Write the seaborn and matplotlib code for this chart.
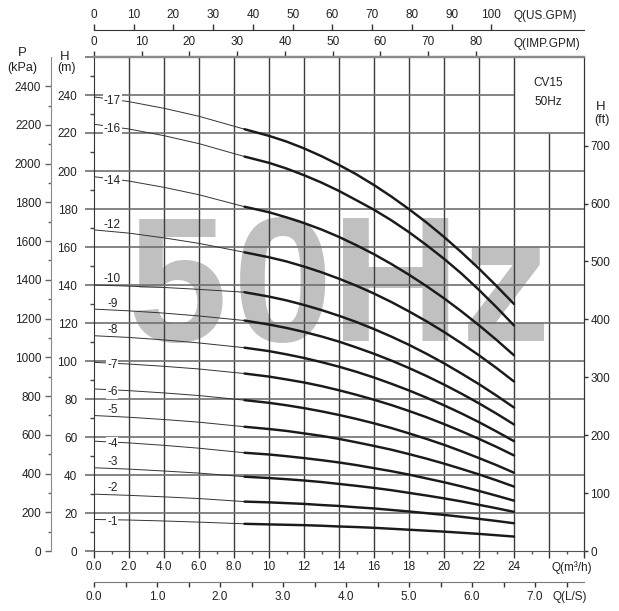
import numpy as np
import pandas as pd
import seaborn as sns
import matplotlib.pyplot as plt

Q_POINTS = [0, 2, 4, 6, 8.6, 10, 11, 12, 13, 14, 15, 16, 17, 18, 19, 20, 21, 22, 23, 24]
THICK_FROM = 8.6

H_1 = [16.6, 16.3, 15.8, 15.2, 14.3, 14.0, 13.8, 13.6, 13.3, 12.9, 12.6, 12.2, 11.7, 11.2, 10.7, 10.2, 9.6, 9.0, 8.3, 7.6]
H_2 = [29.9, 29.3, 28.5, 27.6, 26.0, 25.6, 25.2, 24.8, 24.2, 23.7, 23.0, 22.4, 21.6, 20.8, 19.9, 19.0, 18.0, 16.9, 15.8, 14.6]
H_3 = [43.8, 43.1, 42.1, 41.0, 39.1, 38.4, 37.8, 37.1, 36.3, 35.3, 34.3, 33.2, 32.0, 30.6, 29.2, 27.7, 26.1, 24.3, 22.5, 20.6]
H_4 = [57.8, 56.9, 55.6, 54.1, 51.7, 50.8, 49.9, 48.9, 47.8, 46.6, 45.2, 43.6, 42.0, 40.2, 38.2, 36.2, 34.0, 31.6, 29.1, 26.5]
H_5 = [71.3, 70.4, 69.2, 67.8, 65.4, 64.2, 63.2, 61.9, 60.6, 59.0, 57.2, 55.3, 53.3, 51.0, 48.6, 46.0, 43.2, 40.3, 37.2, 33.9]
H_6 = [85.3, 84.4, 83.2, 81.8, 79.4, 78.0, 76.7, 75.2, 73.5, 71.6, 69.5, 67.2, 64.7, 61.9, 59.0, 55.9, 52.5, 48.9, 45.2, 41.2]
H_7 = [99.3, 98.4, 97.2, 95.8, 93.4, 91.8, 90.3, 88.7, 86.8, 84.6, 82.2, 79.6, 76.8, 73.7, 70.4, 66.8, 63.0, 59.0, 54.8, 50.3]
H_8 = [113.3, 112.4, 111.1, 109.5, 107.0, 105.2, 103.5, 101.6, 99.4, 97.0, 94.3, 91.3, 88.0, 84.5, 80.7, 76.7, 72.4, 67.8, 62.9, 57.8]
H_9 = [127.3, 126.4, 125.2, 123.7, 121.3, 119.2, 117.4, 115.3, 112.9, 110.2, 107.1, 103.8, 100.2, 96.3, 92.1, 87.6, 82.8, 77.7, 72.3, 66.6]
H_10 = [140.0, 139.4, 138.7, 137.7, 136.2, 133.9, 131.9, 129.5, 126.8, 123.8, 120.5, 116.8, 112.8, 108.5, 103.8, 98.8, 93.4, 87.8, 81.8, 75.5]
H_12 = [169.0, 167.3, 164.8, 161.9, 157.2, 154.6, 152.4, 149.7, 146.7, 143.3, 139.6, 135.5, 131.0, 126.1, 120.9, 115.3, 109.3, 103.0, 96.3, 89.2]
H_14 = [197.0, 194.7, 191.4, 187.5, 181.2, 178.3, 175.6, 172.6, 169.2, 165.3, 160.9, 156.2, 151.0, 145.4, 139.4, 133.0, 126.1, 118.8, 111.1, 103.0]
H_16 = [224.6, 222.1, 218.6, 214.4, 207.6, 204.3, 201.3, 197.8, 193.9, 189.5, 184.6, 179.6, 174.0, 167.8, 161.0, 153.8, 146.0, 137.4, 128.3, 118.7]
H_17 = [239.0, 236.5, 233.0, 228.8, 222.0, 218.5, 215.5, 211.9, 207.8, 203.2, 198.2, 192.6, 186.5, 179.9, 172.9, 165.3, 157.2, 148.6, 139.5, 130.0]

STAGES = [1, 2, 3, 4, 5, 6, 7, 8, 9, 10, 12, 14, 16, 17]
HEADS = [H_1, H_2, H_3, H_4, H_5, H_6, H_7, H_8, H_9, H_10, H_12, H_14, H_16, H_17]
ON_LINE = [1, 4, 6, 7, 14, 16, 17]   # labels that sit on the curve

X_LABELS = ['0.0', '2.0', '4.0', '6.0', '8.0', '10', '12', '14', '16', '18', '20', '22', '24', '', '']
LS_LABELS = ['0.0', '', '1.0', '', '2.0', '', '3.0', '', '4.0', '', '5.0', '', '6.0', '', '7.0', '']

W, HP = 619, 611
FS = 8.5

sns.set_style('ticks')
plt.rcParams['font.family'] = ['Liberation Sans', 'DejaVu Sans']
plt.rcParams['font.size'] = FS
plt.rcParams['text.color'] = '#222222'
plt.rcParams['xtick.color'] = '#222222'
plt.rcParams['ytick.color'] = '#222222'

fig = plt.figure(figsize=(6.19, 6.11), dpi=100)
ax = fig.add_axes([94 / W, 1 - 551 / HP, 490 / W, 494 / HP])
ax.set_xlim(0, 28)
ax.set_ylim(0, 260)

# grid, leaving the CV15 box (x 24-28, H 220-260) empty
ax.vlines(range(2, 26, 2), 0, 260, color='#3c3c3c', lw=1.0, zorder=1)
ax.vlines([26], 0, 220, color='#3c3c3c', lw=1.0, zorder=1)
ax.hlines(range(20, 240, 20), 0, 28, color='#707070', lw=1.2, zorder=1)
ax.hlines([240], 0, 24, color='#707070', lw=1.2, zorder=1)

# big watermark
for ch, xc in zip('50Hz', [4.74, 10.8, 17.26, 23.55]):
    ax.text(xc, 110.3, ch, fontsize=129, fontweight='bold', color='#c0c0c0',
            ha='center', va='baseline', zorder=0.5)

# curves
df = pd.concat([pd.DataFrame({'Q': Q_POINTS, 'H': h, 'stage': s})
                for s, h in zip(STAGES, HEADS)])
thin = df[df['Q'] <= THICK_FROM]
thick = df[df['Q'] >= THICK_FROM]
sns.lineplot(data=thin, x='Q', y='H', units='stage', estimator=None,
             color='#333333', lw=0.7, ax=ax, zorder=3)
sns.lineplot(data=thick, x='Q', y='H', units='stage', estimator=None,
             color='#1a1a1a', lw=1.75, ax=ax, zorder=3)
ax.set_xlabel('')
ax.set_ylabel('')

for s, h in zip(STAGES, HEADS):
    yq = np.interp(1.05, Q_POINTS, h)
    if s in ON_LINE:
        ax.text(1.05, yq - 1.0, f'-{s}', ha='center', va='center', fontsize=FS, zorder=4,
                bbox=dict(fc='white', ec='none', pad=0.6))
    else:
        ax.text(1.05, yq + 3.4, f'-{s}', ha='center', va='center', fontsize=FS, zorder=4)

# main axes ticks
ax.set_xticks(range(0, 29, 2), X_LABELS)
ax.set_xticks(range(1, 28, 2), minor=True)
ax.tick_params(axis='x', which='major', length=5, width=1, color='#333333', pad=2.5, labelsize=FS)
ax.tick_params(axis='x', which='minor', length=2.2, width=1, color='#555555')
ax.set_yticks(range(0, 261, 20), [str(v) for v in range(0, 241, 20)] + [''])
ax.set_yticks(range(10, 260, 20), minor=True)
ax.tick_params(axis='y', which='major', length=6.5, width=1.2, color='#707070', pad=5.5, labelsize=FS)
ax.tick_params(axis='y', which='minor', length=3, width=1, color='#444444')
ax.spines['top'].set_color('#8a8a8a')
ax.spines['top'].set_linewidth(1.6)
ax.spines['left'].set_color('#333333')
ax.spines['bottom'].set_color('#555555')
ax.spines['right'].set_color('#333333')
for sp in ax.spines.values():
    sp.set_zorder(2)

# P (kPa) axis on the far left
p_ax = ax.secondary_yaxis(-43 / 490, functions=(lambda h: h * 9.81, lambda p: p / 9.81))
p_ax.set_yticks(range(0, 2401, 200))
p_ax.set_yticks(range(100, 2500, 200), minor=True)
p_ax.tick_params(which='major', length=4.5, width=1, color='#666666', pad=2.5, labelsize=FS)
p_ax.tick_params(which='minor', length=2.2, width=1, color='#666666')
p_ax.spines['left'].set_color('#8a8a8a')

# H (ft) on the right
ft_ax = ax.secondary_yaxis('right', functions=(lambda h: h * 3.2808, lambda f: f / 3.2808))
ft_ax.set_yticks(range(0, 701, 100))
ft_ax.tick_params(length=3, width=1, color='#333333', pad=1.5, labelsize=FS)
ft_ax.spines['right'].set_color('#333333')

# flow in US gallons per minute on top
us_ax = ax.secondary_xaxis(1 + 27 / 494, functions=(lambda q: q * 4.4029, lambda g: g / 4.4029))
us_ax.set_xticks(range(0, 101, 10))
us_ax.tick_params(length=4.3, width=1, color='#333333', pad=2, labelsize=FS)
us_ax.spines['top'].set_color('#333333')

# imperial gallons per minute on the top of the plot
imp_ax = ax.secondary_xaxis('top', functions=(lambda q: q * 3.6662, lambda g: g / 3.6662))
imp_ax.set_xticks(range(0, 81, 10))
imp_ax.tick_params(length=4.5, width=1, color='#333333', pad=2, labelsize=FS)
imp_ax.spines['top'].set_color('#8a8a8a')
imp_ax.spines['top'].set_linewidth(1.6)

# litres per second below
ls_ax = ax.secondary_xaxis(-31 / 494, functions=(lambda q: q / 3.6, lambda l: l * 3.6))
ls_ax.set_xticks(np.arange(0, 7.6, 0.5), LS_LABELS)
ls_ax.tick_params(length=3.6, width=1, color='#333333', pad=3, labelsize=FS)
ls_ax.spines['bottom'].set_color('#7a7a7a')


def ftext(px, py, s, **kw):
    fig.text(px / W, 1 - py / HP, s, ha='center', va='center', **kw)


ftext(22.5, 52.5, 'P', fontsize=9.5)
ftext(22.5, 67.5, '(kPa)', fontsize=9)
ftext(65, 56.5, 'H', fontsize=9.5)
ftext(67, 68.5, '(m)', fontsize=9)
ftext(601, 106.5, 'H', fontsize=9.5)
ftext(602, 120, '(ft)', fontsize=9)
ftext(548, 83, 'CV15', fontsize=FS)
ftext(548, 101.5, '50Hz', fontsize=FS)
ftext(545, 16, 'Q(US.GPM)', fontsize=FS)
ftext(547, 43.5, 'Q(IMP.GPM)', fontsize=FS)
ftext(572, 568, 'Q(m³/h)', fontsize=FS)
ftext(570, 597, 'Q(L/S)', fontsize=FS)

fig.savefig('out.png', dpi=100)
